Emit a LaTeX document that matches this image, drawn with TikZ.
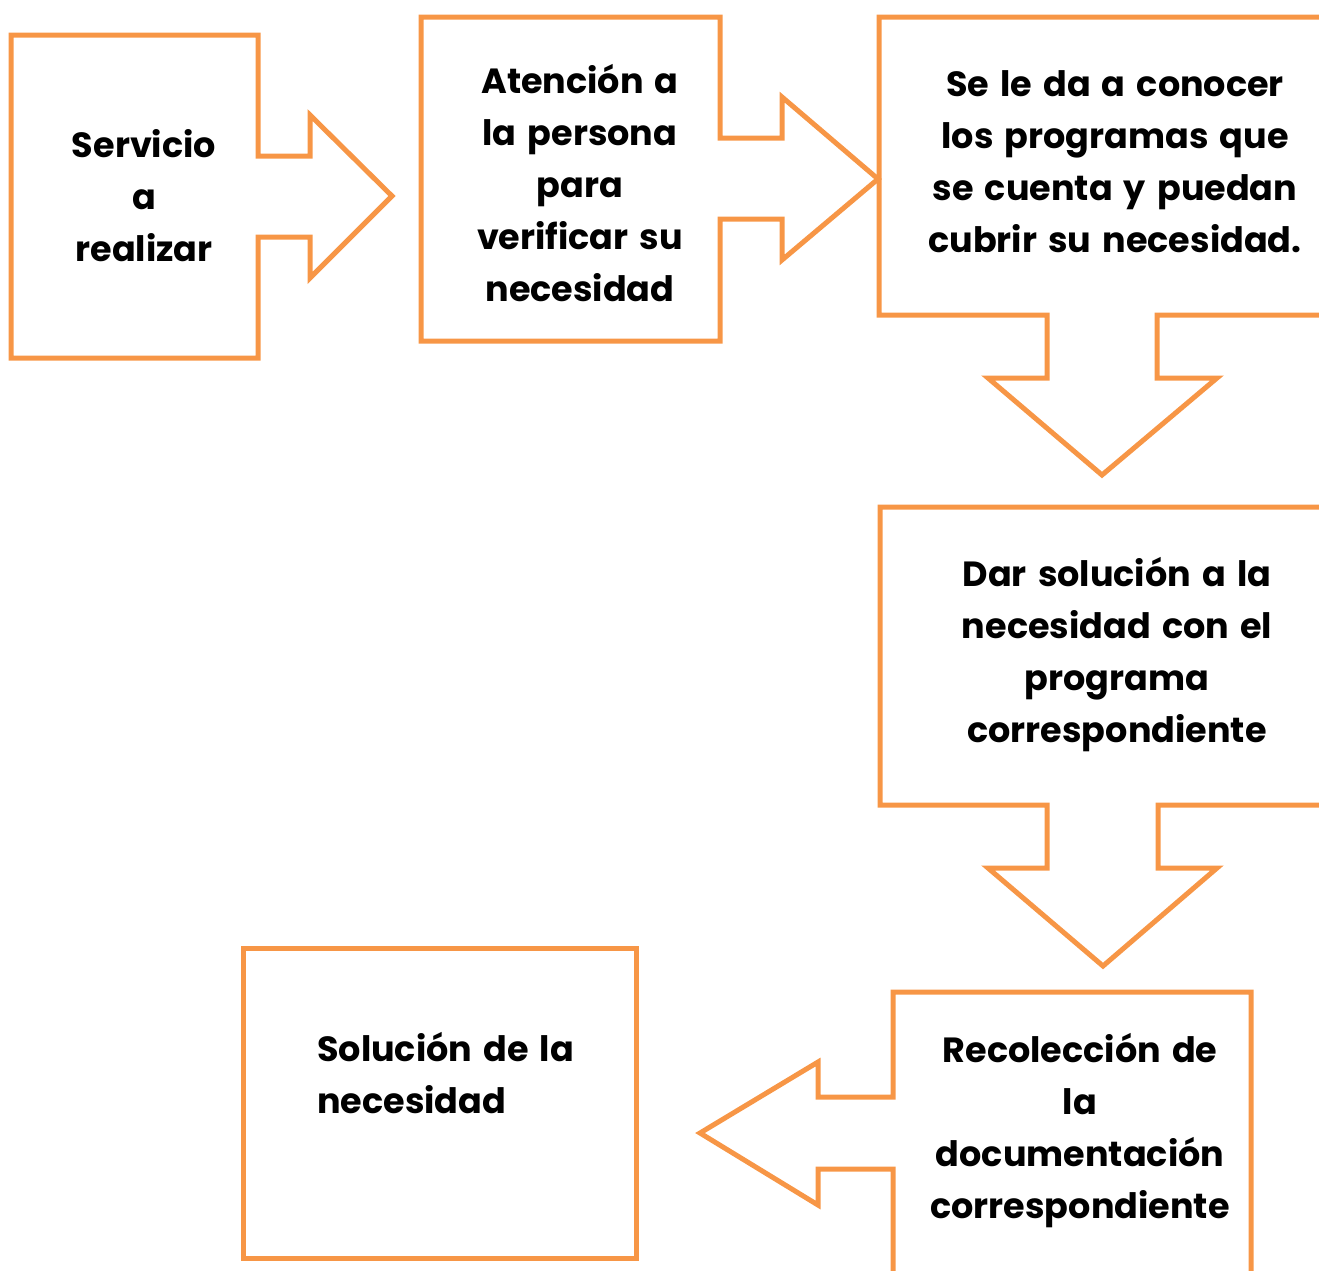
\documentclass[tikz,border=0pt]{standalone}
\usepackage{fontspec}
\setmainfont[WordSpace=1.5]{Poppins}
\definecolor{orng}{RGB}{247,150,70}
\begin{document}
\begin{tikzpicture}[x=1pt,y=-1pt,
  shp/.style={draw=orng,line width=5pt,line join=miter},
  lbl/.style={inner sep=0pt,align=center,anchor=base,font=\fontsize{35}{52}\selectfont\bfseries}]
\useasboundingbox (0,0) rectangle (1319,1270);
\clip (0,0) rectangle (1319,1270);
% shape 1
\draw[shp] (11,35) -- (258,35) -- (258,156) -- (310,156) -- (310,115) -- (392,196) -- (310,278) -- (310,237) -- (258,237) -- (258,358) -- (11,358) -- cycle;
% shape 2
\draw[shp] (421,17) -- (720,17) -- (720,138) -- (782,138) -- (782,97) -- (878,179) -- (782,260) -- (782,219) -- (720,219) -- (720,341) -- (421,341) -- cycle;
% shape 3
\draw[shp] (1340,17) -- (879,17) -- (879,315) -- (1047,315) -- (1047,378) -- (988,378) -- (1102,475) -- (1217,378) -- (1157,378) -- (1157,315) -- (1340,315);
% shape 4
\draw[shp] (1340,507) -- (880,507) -- (880,805) -- (1047,805) -- (1047,868) -- (988,868) -- (1103,966) -- (1217,868) -- (1158,868) -- (1158,805) -- (1340,805);
% shape 5
\draw[shp] (893,1290) -- (893,1169) -- (818,1169) -- (818,1205) -- (700,1133) -- (818,1062) -- (818,1097) -- (893,1097) -- (893,992) -- (1251,992) -- (1251,1290);
% shape 6
\draw[shp] (243,948) rectangle (636,1258);
% texts (anchored at the baseline of the last line)
\node[lbl] (t1) at (144,261) {Servicio\\a\\realizar};
\node[lbl] (t2) at (580,301) {Atención a\\la persona\\para\\verificar su\\necesidad};
\node[lbl] (t3) at (1115,252) {Se le da a conocer\\los programas que\\se cuenta y puedan\\cubrir su necesidad.};
\node[lbl] (t4) at (1117,742) {Dar solución a la\\necesidad con el\\programa\\correspondiente};
\node[lbl] (t5) at (1080,1218) {Recolección de\\la\\documentación\\correspondiente};
\node[lbl,align=left,anchor=base west] (t6) at (317,1113) {Solución de la\\necesidad};
\end{tikzpicture}
\end{document}
